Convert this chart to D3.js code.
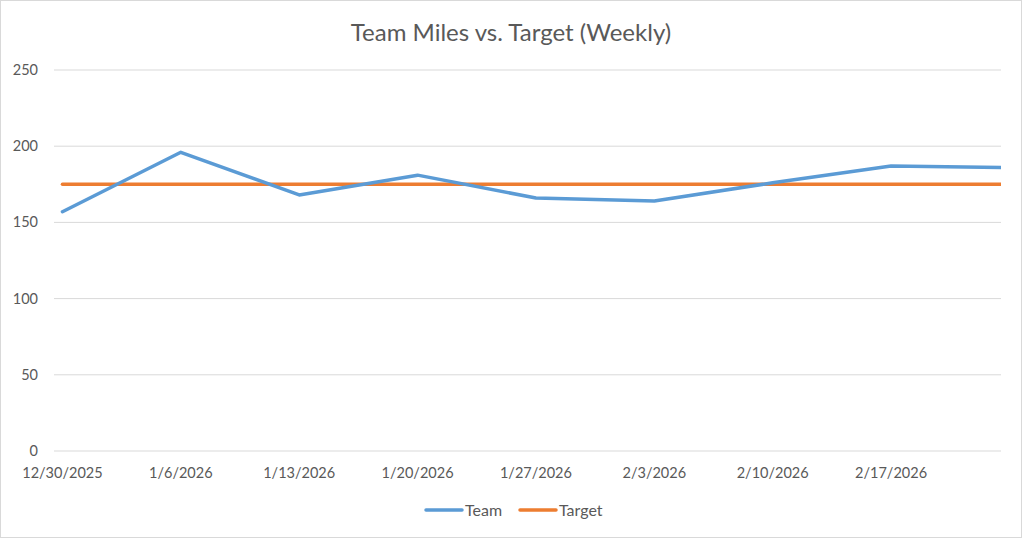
<!DOCTYPE html>
<html>
<head>
<meta charset="utf-8">
<script src="https://cdn.jsdelivr.net/npm/d3@7"></script>
<style>
  body { margin: 0; background: #fff; }
  svg text { font-family: Lato, "Open Sans", sans-serif; fill: #595959; }
</style>
</head>
<body>
<svg id="chart" width="1022" height="538"></svg>
<script>
// data
const dates = ['2025-12-30', '2026-01-06', '2026-01-13', '2026-01-20', '2026-01-27',
               '2026-02-03', '2026-02-10', '2026-02-17', '2026-02-24']
const team = [157, 196, 168, 181, 166, 164, 176, 187, 186]
const target = [175, 175, 175, 175, 175, 175, 175, 175, 175]
const yTicks = [0, 50, 100, 150, 200, 250]
const xTickDates = ['2025-12-30', '2026-01-06', '2026-01-13', '2026-01-20',
                    '2026-01-27', '2026-02-03', '2026-02-10', '2026-02-17']

const parse = d3.timeParse('%Y-%m-%d')
const fmt = d3.timeFormat('%-m/%-d/%Y')
const day = 864e5

const svg = d3.select('#chart')
const W = 1022, H = 538
const m = { left: 54, right: 21, top: 70, bottom: 87 }

// border of the chart area
svg.append('rect')
  .attr('x', 0.5).attr('y', 0.5)
  .attr('width', W - 1).attr('height', H - 1)
  .attr('fill', '#fff').attr('stroke', '#d9d9d9')

// date axis, half a day of padding on each side like Excel
const x = d3.scaleTime()
  .domain([new Date(+parse(dates[0]) - day / 2), new Date(+parse('2026-02-23') + day / 2)])
  .range([m.left, W - m.right])

const y = d3.scaleLinear()
  .domain([0, 250])
  .range([H - m.bottom, m.top])

// gridlines
svg.append('g')
  .selectAll('line')
  .data(yTicks)
  .join('line')
  .attr('x1', m.left).attr('x2', W - m.right)
  .attr('y1', d => y(d)).attr('y2', d => y(d))
  .attr('stroke', '#d9d9d9').attr('stroke-width', 1)

// y labels
svg.append('g')
  .selectAll('text')
  .data(yTicks)
  .join('text')
  .attr('x', 38).attr('y', d => y(d))
  .attr('dy', '0.35em')
  .attr('text-anchor', 'end')
  .attr('font-size', 14.5)
  .text(d => d)

// x labels
svg.append('g')
  .selectAll('text')
  .data(xTickDates.map(parse))
  .join('text')
  .attr('x', d => x(d)).attr('y', H - m.bottom + 27)
  .attr('text-anchor', 'middle')
  .attr('font-size', 14.5)
  .text(d => fmt(d))

// clip lines to plot area
svg.append('clipPath').attr('id', 'plot')
  .append('rect')
  .attr('x', m.left).attr('y', 0)
  .attr('width', W - m.left - m.right).attr('height', H)

const line = d3.line()
  .x((d, i) => x(parse(dates[i])))
  .y(d => y(d))

svg.append('path')
  .datum(target)
  .attr('d', line)
  .attr('clip-path', 'url(#plot)')
  .attr('fill', 'none').attr('stroke', '#ED7D31')
  .attr('stroke-width', 3.5).attr('stroke-linecap', 'round')

svg.append('path')
  .datum(team)
  .attr('d', line)
  .attr('clip-path', 'url(#plot)')
  .attr('fill', 'none').attr('stroke', '#5B9BD5')
  .attr('stroke-width', 3.5).attr('stroke-linecap', 'round').attr('stroke-linejoin', 'round')

// title
svg.append('text')
  .attr('x', W / 2).attr('y', 41)
  .attr('text-anchor', 'middle')
  .attr('font-size', 24)
  .text('Team Miles vs. Target (Weekly)')

// legend
const legend = [{ name: 'Team', color: '#5B9BD5', x: 424 }, { name: 'Target', color: '#ED7D31', x: 518 }]
const lg = svg.append('g').selectAll('g').data(legend).join('g')
lg.append('line')
  .attr('x1', d => d.x + 2).attr('x2', d => d.x + 38)
  .attr('y1', 510).attr('y2', 510)
  .attr('stroke', d => d.color).attr('stroke-width', 3.5).attr('stroke-linecap', 'round')
lg.append('text')
  .attr('x', d => d.x + 41).attr('y', 510).attr('dy', '0.35em')
  .attr('font-size', 16)
  .text(d => d.name)
</script>
</body>
</html>
